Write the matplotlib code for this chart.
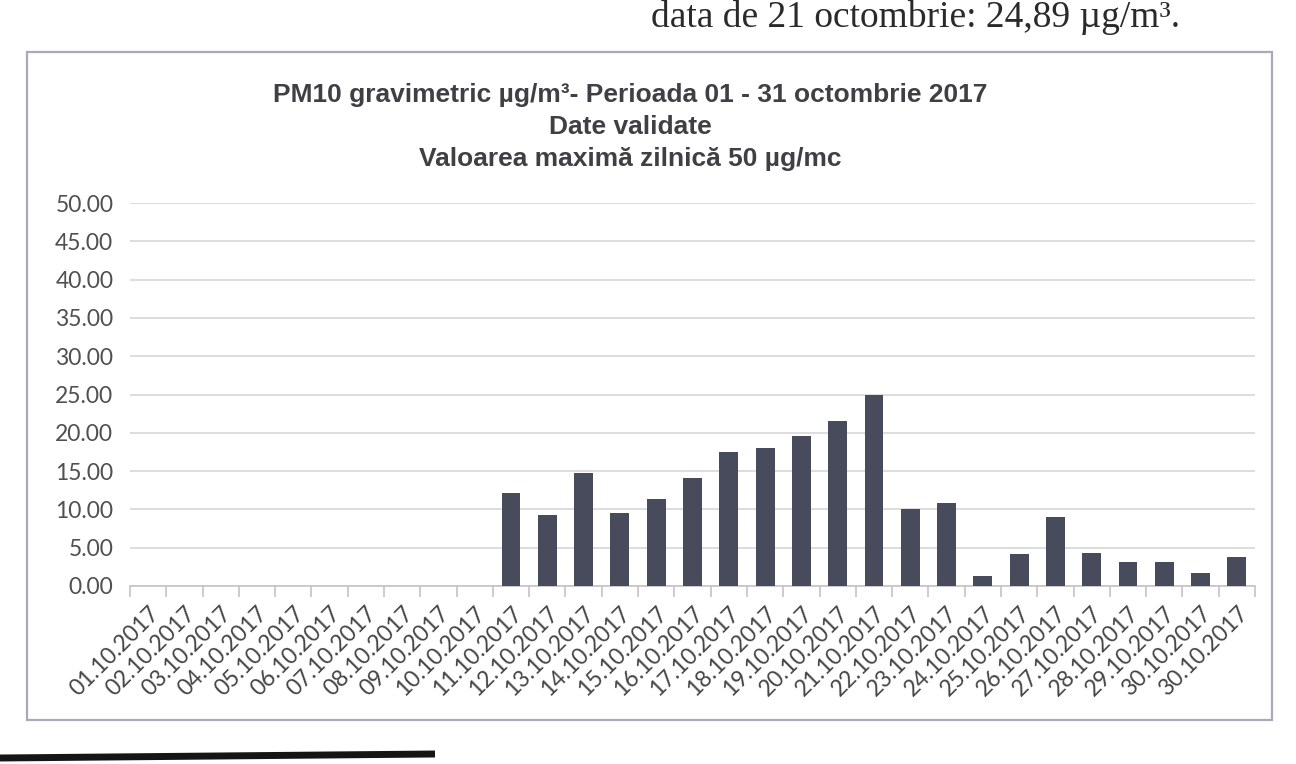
import matplotlib
matplotlib.use("Agg")
import matplotlib.pyplot as plt
import numpy as np
from matplotlib.lines import Line2D
from matplotlib.patches import Rectangle
from matplotlib.ticker import FixedLocator, FormatStrFormatter

# Daily PM10 values (µg/m3), October 2017 - no validated data for 01-10
dates = [f"{d:02d}.10.2017" for d in range(1, 31)] + ["30.10.2017"]
pm10 = [np.nan] * 10 + [
    12.2, 9.3, 14.7, 9.5, 11.3, 14.1, 17.5, 18.0, 19.6, 21.6,
    24.89, 10.1, 10.8, 1.3, 4.2, 9.0, 4.3, 3.1, 3.1, 1.7, 3.8,
]
yticks = [0, 5, 10, 15, 20, 25, 30, 35, 40, 45, 50]

title = ("PM10 gravimetric µg/m³- Perioada 01 - 31 octombrie 2017\n"
         "Date validate\n"
         "Valoarea maximă zilnică 50 µg/mc")
page_text = "data de 21 octombrie: 24,89 µg/m³."

W, H = 1296, 764
fig = plt.figure(figsize=(W / 100, H / 100), dpi=100)
fig.patch.set_facecolor("white")


def fx(px):
    return px / W


def fy(py):
    return 1 - py / H


# chart area border
fig.add_artist(Rectangle((fx(27), fy(720)), fx(1272) - fx(27), fy(52) - fy(720),
                         transform=fig.transFigure, fill=False,
                         ec="#a9a9bd", lw=1.6))

ax = fig.add_axes([fx(130), fy(586), fx(1255) - fx(130), fy(203) - fy(586)])
x = np.arange(len(dates))
ax.bar(x, pm10, width=0.52, color="#474b5c", zorder=3)

ax.set_xlim(-0.5, len(dates) - 0.5)
ax.set_ylim(0, 50)
ax.set_yticks(yticks)
ax.yaxis.set_major_formatter(FormatStrFormatter("%.2f"))
ax.grid(axis="y", color="#d6d6dc", lw=1.2, zorder=0)
for s in ["top", "right", "left"]:
    ax.spines[s].set_visible(False)
ax.spines["bottom"].set_color("#c4c4c8")
ax.spines["bottom"].set_linewidth(1.2)

ax.set_xticks(x)
ax.set_xticklabels(dates, rotation=45, ha="right", va="top",
                   rotation_mode="anchor", fontsize=16.5, color="#454545",
                   family="Lato")
ax.tick_params(axis="x", which="major", length=0, pad=12)
ax.xaxis.set_minor_locator(FixedLocator(np.arange(-0.5, len(dates), 1.0)))
ax.tick_params(axis="x", which="minor", length=8, color="#c4c4c8", width=1.2)
ax.tick_params(axis="y", length=0, pad=12, labelsize=16.5, labelcolor="#505050")
for lab in ax.get_yticklabels():
    lab.set_family("Lato")

fig.text(fx(630), fy(127), title, ha="center", va="center", fontsize=19,
         weight="bold", color="#3f3f46", family="Liberation Sans",
         linespacing=1.42)

# cut-off line of the surrounding document text
fig.text(fx(1180), fy(27), page_text, ha="right", va="baseline", fontsize=27,
         color="#2a2a2a", family="Liberation Serif")

# dark scan edge at the bottom of the page
fig.add_artist(Line2D([0, fx(435)], [fy(758), fy(754)], transform=fig.transFigure,
                      color="#151515", lw=5, solid_capstyle="butt"))

fig.savefig("out.png", dpi=100)
